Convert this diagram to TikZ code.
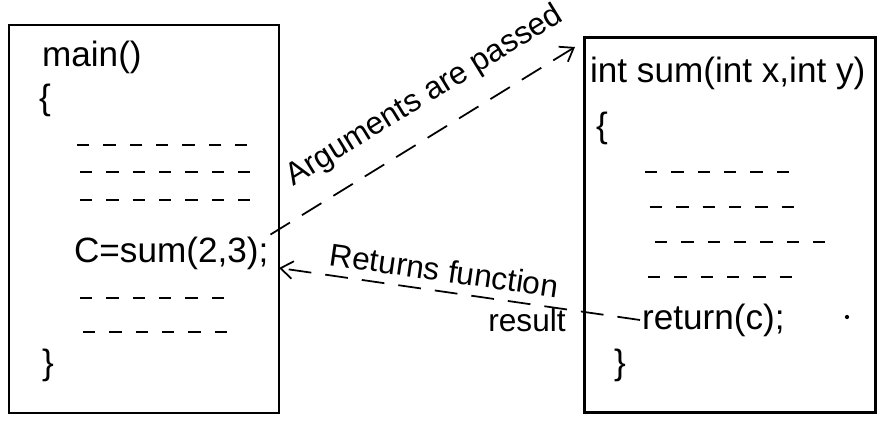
\documentclass[tikz,border=0pt]{standalone}
\usepackage{fontspec}
\setmainfont{Liberation Sans}
\usetikzlibrary{arrows.meta}

\begin{document}
\begin{tikzpicture}[
    x=0.02cm, y=-0.02cm,
    >={Straight Barb[length=7pt,width=10pt]},
    codebox/.style={draw, rectangle, line width=1.2pt, inner sep=0pt},
    code/.style={font=\fontsize{20}{24}\selectfont, inner sep=1pt},
    note/.style={font=\fontsize{18}{22}\selectfont, inner sep=2pt},
    filler/.style={line width=1.2pt, dash pattern=on 7pt off 8pt},
    flow/.style={->, line width=1pt, dash pattern=on 13pt off 8pt}
]
\useasboundingbox (0,0) rectangle (887,426);

% The two boxes first
\node[codebox, minimum width=5.4cm, minimum height=7.76cm] (mainbox) at (144,219) {};
\node[codebox, minimum width=5.82cm, minimum height=7.5cm] (sumbox) at (730,225) {};

% Calling function
\node[code, anchor=west] (mainhead) at (40,57) {main()};
\node[code] (mainopen) at (45,100) {\{};
\foreach \y/\xa/\xb in {145/77/248, 172/80/251, 200/80/251, 298/80/225, 332/83/228}
  \draw[filler] (\xa,\y) -- (\xb,\y);
\node[code, anchor=west] (call) at (72,253) {C=sum(2,3);};
\node[code] (mainclose) at (48,365) {\}};

% Called function
\node[code, anchor=west] (sumhead) at (588,73) {int sum(int x,int y)};
\node[code] (sumopen) at (602,128) {\{};
\foreach \y/\xa/\xb in {172/645/790, 207/650/795, 242/655/826, 277/648/793}
  \draw[filler] (\xa,\y) -- (\xb,\y);
\node[code, anchor=west] (ret) at (640,320) {return(c);};
\node[code] (sumclose) at (620,365) {\}};
\fill (847,317) circle (1.2pt);

% Arguments go over, result comes back
\coordinate (argto) at (575,47);
\coordinate (retto) at (279,268);
\draw[flow] (call.north east) -- (argto)
  node[note, pos=0.57, sloped, above=10pt] {Arguments are passed};
\draw[flow] (ret.west) -- (retto)
  node[note, pos=0.55, sloped, above=3pt] {Returns function};
\node[note] (result) at (527,320) {result};

\end{tikzpicture}
\end{document}
